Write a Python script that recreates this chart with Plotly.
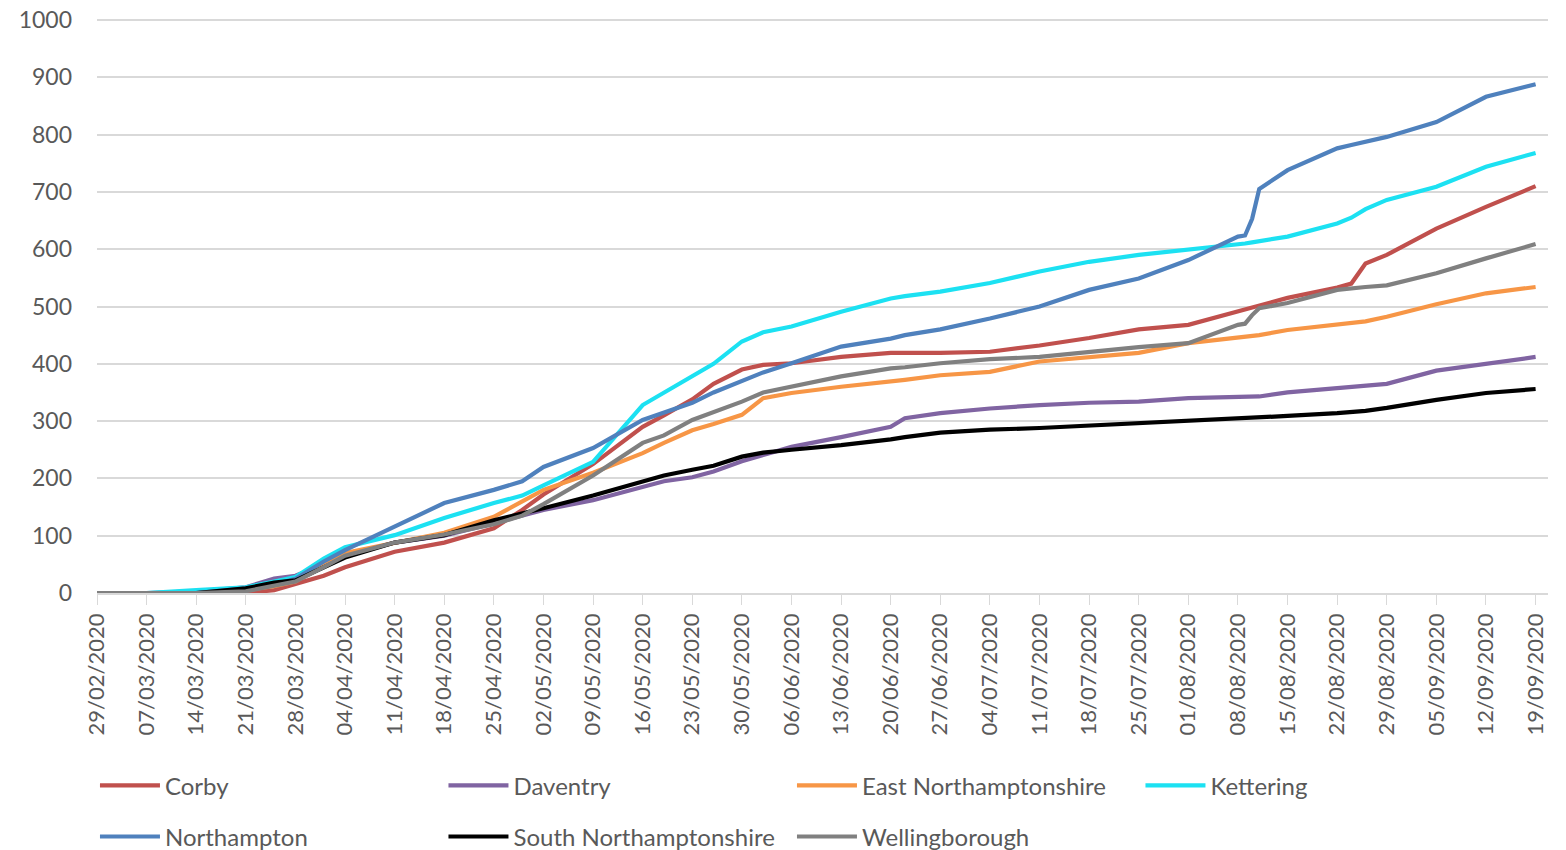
import plotly.graph_objects as go
import pandas as pd

dates = ["29/02/2020","07/03/2020","14/03/2020","21/03/2020","25/03/2020","28/03/2020","01/04/2020",
         "04/04/2020","11/04/2020","18/04/2020","25/04/2020","29/04/2020","02/05/2020","09/05/2020",
         "16/05/2020","19/05/2020","23/05/2020","26/05/2020","30/05/2020","02/06/2020","06/06/2020",
         "13/06/2020","20/06/2020","22/06/2020","27/06/2020","04/07/2020","11/07/2020","18/07/2020",
         "25/07/2020","01/08/2020","08/08/2020","09/08/2020","10/08/2020","11/08/2020","15/08/2020",
         "22/08/2020","24/08/2020","26/08/2020","29/08/2020","05/09/2020","12/09/2020","19/09/2020"]

corby = [0,0,0,0,5,15,30,45,72,88,113,145,172,225,290,310,338,365,390,398,401,
         412,419,419,419,421,432,445,460,468,492,495,498,502,515,533,540,575,590,636,674,710]
daventry = [0,0,3,10,25,30,50,65,88,100,122,135,145,162,185,195,202,212,230,240,255,
            272,290,305,314,322,328,332,334,340,341,341,342,343,350,358,360,362,365,388,400,412]
east_northants = [0,0,0,5,12,20,50,70,88,105,133,160,180,210,244,262,284,295,311,340,349,
                  360,369,372,380,386,404,412,419,436,447,448,449,450,459,469,470,474,482,504,523,534]
kettering = [0,0,5,10,20,28,60,80,101,131,157,170,188,229,328,350,378,400,439,455,465,
             491,514,518,526,541,561,578,590,599,607,610,612,614,622,645,655,670,686,709,744,768]
northampton = [0,0,0,8,15,25,55,75,116,157,180,195,220,253,302,315,332,350,370,385,401,
               430,444,450,460,479,500,529,549,581,622,624,653,705,738,776,782,788,796,822,866,888]
south_northants = [0,0,0,8,18,22,45,62,88,101,127,138,148,170,195,205,215,222,238,245,250,
                   258,268,272,280,285,288,292,296,300,305,305,306,306,309,314,316,318,323,337,349,356]
wellingborough = [0,0,0,3,12,20,45,65,88,102,120,135,155,205,262,275,302,315,334,350,360,
                  378,392,394,401,408,412,421,429,436,468,470,485,497,506,529,532,534,537,558,584,609]

series = [
    ("Corby", corby, "#C0504D", "legend"),
    ("Daventry", daventry, "#8064A2", "legend"),
    ("East Northamptonshire", east_northants, "#F79646", "legend"),
    ("Kettering", kettering, "#1CE1F2", "legend"),
    ("Northampton", northampton, "#4F81BD", "legend2"),
    ("South Northamptonshire", south_northants, "#000000", "legend2"),
    ("Wellingborough", wellingborough, "#808080", "legend2"),
]

x = pd.to_datetime(dates, format="%d/%m/%Y")

fig = go.Figure()
for name, vals, color, lg in series:
    fig.add_trace(go.Scatter(x=x, y=vals, name=name, mode="lines",
                             line=dict(color=color, width=4.2), legend=lg))

FONT = "Lato"
TXT = "#595959"
legend_common = dict(orientation="h", x=-0.0014, xanchor="left", yanchor="top",
                     entrywidth=273.5, itemwidth=60,
                     font=dict(size=24, color=TXT, family=FONT), bgcolor="rgba(0,0,0,0)")
fig.update_layout(
    width=1566, height=850,
    margin=dict(l=97, r=18, t=18, b=257, autoexpand=False),
    paper_bgcolor="white", plot_bgcolor="white",
    font=dict(family=FONT, color=TXT, size=20),
    showlegend=True,
    legend=dict(y=-0.296, **legend_common),
    legend2=dict(y=-0.385, **legend_common),
    xaxis=dict(type="date", range=["2020-02-29", "2020-09-20 18:00"], automargin=False,
               tick0="2020-02-29", dtick=7*86400000, tickformat="%d/%m/%Y",
               tickangle=-90, ticks="outside", ticklen=10, tickcolor="#D9D9D9",
               showline=True, linecolor="#D9D9D9", linewidth=1.5,
               showgrid=False, zeroline=False,
               tickfont=dict(size=22, color=TXT, family=FONT)),
    yaxis=dict(range=[0, 1003.5], dtick=100, tick0=0, showgrid=True, gridcolor="#D9D9D9",
               gridwidth=1.5, zeroline=False, showline=False, automargin=False,
               ticklabelstandoff=24,
               tickfont=dict(size=23, color=TXT, family=FONT)),
)

fig.write_html("out.html", config={"displayModeBar": False},
               post_script="document.body.style.margin='0';document.body.style.overflow='hidden';")
